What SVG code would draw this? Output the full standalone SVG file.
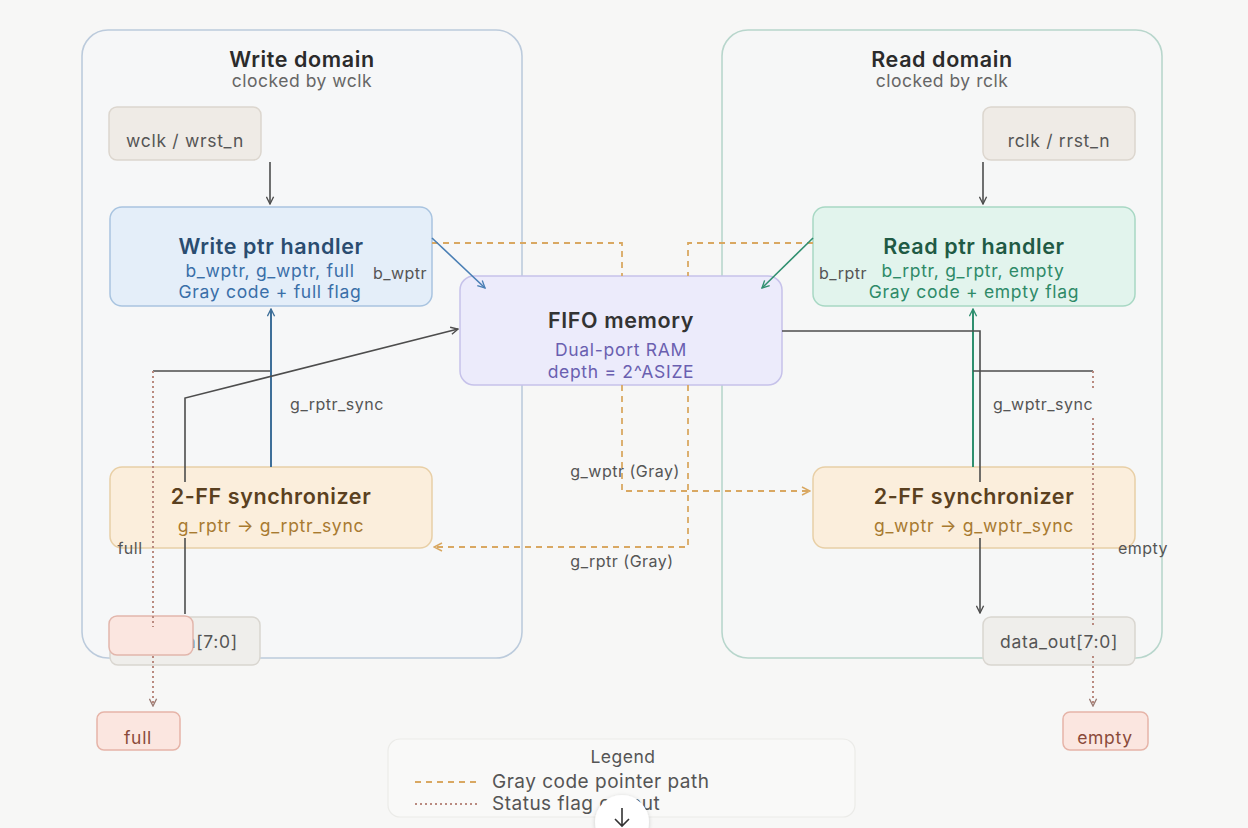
<svg xmlns="http://www.w3.org/2000/svg" width="1248" height="828" viewBox="0 0 1248 828">
<defs>
<style>
text{font-family:Inter,"Noto Sans","Liberation Sans",sans-serif;}
.ttl{font-size:21.5px;font-weight:600;text-anchor:middle;letter-spacing:0.6px;}
.sub{font-size:17.5px;text-anchor:middle;letter-spacing:0.7px;}
.dom{font-size:17.5px;text-anchor:middle;letter-spacing:0.5px;fill:#666;}
.lbl{font-size:16px;fill:#555;text-anchor:middle;letter-spacing:0.5px;}
.leg{font-size:19px;fill:#555;letter-spacing:0.5px;}
.gray{fill:none;stroke:#d9a862;stroke-width:1.8;stroke-dasharray:6 5;}
.flag{fill:none;stroke:#b98a80;stroke-width:2;stroke-dasharray:2 3;}
.wire{fill:none;stroke:#4d4d4d;stroke-width:1.6;}
</style>
<marker id="aGrey" viewBox="0 0 10 10" refX="9" refY="5" markerWidth="9" markerHeight="9" orient="auto" markerUnits="userSpaceOnUse"><path d="M1,1 L9,5 L1,9" fill="none" stroke="#4d4d4d" stroke-width="1.5"/></marker>
<marker id="aBlue" viewBox="0 0 10 10" refX="9" refY="5" markerWidth="9" markerHeight="9" orient="auto" markerUnits="userSpaceOnUse"><path d="M1,1 L9,5 L1,9" fill="none" stroke="#4a7fb5" stroke-width="1.5"/></marker>
<marker id="aBlueD" viewBox="0 0 10 10" refX="9" refY="5" markerWidth="9" markerHeight="9" orient="auto" markerUnits="userSpaceOnUse"><path d="M1,1 L9,5 L1,9" fill="none" stroke="#3e6f99" stroke-width="1.5"/></marker>
<marker id="aGreen" viewBox="0 0 10 10" refX="9" refY="5" markerWidth="9" markerHeight="9" orient="auto" markerUnits="userSpaceOnUse"><path d="M1,1 L9,5 L1,9" fill="none" stroke="#2f8f6f" stroke-width="1.5"/></marker>
<marker id="aOr" viewBox="0 0 10 10" refX="9" refY="5" markerWidth="10" markerHeight="10" orient="auto" markerUnits="userSpaceOnUse"><path d="M1,1 L9,5 L1,9" fill="none" stroke="#d9a862" stroke-width="1.5"/></marker>
<marker id="aFlag" viewBox="0 0 10 10" refX="9" refY="5" markerWidth="9" markerHeight="9" orient="auto" markerUnits="userSpaceOnUse"><path d="M1,1 L9,5 L1,9" fill="none" stroke="#9a7a72" stroke-width="1.5"/></marker>
<filter id="sh" x="-30%" y="-30%" width="160%" height="160%"><feDropShadow dx="0" dy="1" stdDeviation="2" flood-color="#000" flood-opacity="0.18"/></filter>
</defs>
<rect width="1248" height="828" fill="#f7f7f6"/>

<g id="write-domain">
<rect x="82" y="30" width="440" height="628" rx="26" fill="#f6f7f8" stroke="#bccbdc" stroke-width="1.6"/>
<text class="ttl" x="302" y="67" fill="#2b2b2b">Write domain</text>
<text class="dom" x="302" y="87">clocked by wclk</text>
</g>
<g id="read-domain">
<rect x="722" y="30" width="440" height="628" rx="26" fill="#f6f7f7" stroke="#b8d6cc" stroke-width="1.6"/>
<text class="ttl" x="942" y="67" fill="#2b2b2b">Read domain</text>
<text class="dom" x="942" y="87">clocked by rclk</text>
</g>

<g id="wclk">
<rect x="109" y="107" width="152" height="53" rx="8" fill="#efebe6" stroke="#dcd6ce" stroke-width="1.5"/>
<text class="sub" x="185" y="147" fill="#555">wclk / wrst_n</text>
</g>
<g id="rclk">
<rect x="983" y="107" width="152" height="53" rx="8" fill="#efebe6" stroke="#dcd6ce" stroke-width="1.5"/>
<text class="sub" x="1059" y="147" fill="#555">rclk / rrst_n</text>
</g>

<g id="write-ptr-handler">
<rect x="110" y="207" width="322" height="99" rx="12" fill="#e4eef9" stroke="#a9c4e0" stroke-width="1.5"/>
<text class="ttl" x="271" y="254" fill="#2a4c70">Write ptr handler</text>
<text class="sub" x="270" y="277" fill="#3a6fa8">b_wptr, g_wptr, full</text>
<text class="sub" x="270" y="298" fill="#3a6fa8">Gray code + full flag</text>
</g>
<g id="read-ptr-handler">
<rect x="813" y="207" width="322" height="99" rx="12" fill="#e2f4ed" stroke="#a8d8c4" stroke-width="1.5"/>
<text class="ttl" x="974" y="254" fill="#1f5a44">Read ptr handler</text>
<text class="sub" x="973" y="277" fill="#2e8a68">b_rptr, g_rptr, empty</text>
<text class="sub" x="974" y="298" fill="#2e8a68">Gray code + empty flag</text>
</g>

<g id="fifo-memory">
<rect x="460" y="276" width="322" height="109" rx="14" fill="#ecebfb" stroke="#c6c2ea" stroke-width="1.5"/>
<text class="ttl" x="621" y="328" fill="#333">FIFO memory</text>
<text class="sub" x="621" y="356" fill="#6a5fb0">Dual-port RAM</text>
<text class="sub" x="621" y="378" fill="#6a5fb0">depth = 2^ASIZE</text>
</g>

<g id="sync-write">
<rect x="110" y="467" width="322" height="81" rx="12" fill="#fbeedc" stroke="#e8cfa6" stroke-width="1.5"/>
<text class="ttl" x="271" y="504" fill="#5a4020">2-FF synchronizer</text>
<text class="sub" x="271" y="532" fill="#a87a30">g_rptr → g_rptr_sync</text>
</g>
<g id="sync-read">
<rect x="813" y="467" width="322" height="81" rx="12" fill="#fbeedc" stroke="#e8cfa6" stroke-width="1.5"/>
<text class="ttl" x="974" y="504" fill="#5a4020">2-FF synchronizer</text>
<text class="sub" x="974" y="532" fill="#a87a30">g_wptr → g_wptr_sync</text>
</g>

<g id="data-in">
<rect x="110" y="617" width="150" height="48" rx="8" fill="#efeeeb" stroke="#d9d6d0" stroke-width="1.5"/>
<text class="sub" x="185" y="648" fill="#555">data_in[7:0]</text>
</g>
<g id="full-overlay">
<rect x="109" y="616" width="84" height="39" rx="8" fill="#fbe6e0" stroke="#e2b6ac" stroke-width="1.5"/>
</g>
<g id="data-out">
<rect x="983" y="617" width="152" height="48" rx="8" fill="#efeeeb" stroke="#d9d6d0" stroke-width="1.5"/>
<text class="sub" x="1059" y="648" fill="#555">data_out[7:0]</text>
</g>

<g id="full">
<rect x="97" y="712" width="83" height="38" rx="7" fill="#fbe6e0" stroke="#e6b4a8" stroke-width="1.5"/>
<text class="sub" x="138" y="744" fill="#8a4a3a">full</text>
</g>
<g id="empty">
<rect x="1063" y="712" width="85" height="38" rx="7" fill="#fbe6e0" stroke="#e6b4a8" stroke-width="1.5"/>
<text class="sub" x="1105" y="744" fill="#8a4a3a">empty</text>
</g>

<g id="connectors">
<path class="gray" d="M432,243 H622 V276"/>
<path class="gray" d="M622,385 V491 H810" marker-end="url(#aOr)"/>
<path class="gray" d="M813,243 H688 V276"/>
<path class="gray" d="M688,385 V547 H434" marker-end="url(#aOr)"/>
<path class="wire" d="M270,162 V204" marker-end="url(#aGrey)"/>
<path class="wire" d="M983,162 V204" marker-end="url(#aGrey)"/>
<path d="M432,238 L485,288" fill="none" stroke="#4a7fb5" stroke-width="1.6" marker-end="url(#aBlue)"/>
<path d="M813,238 L762,288" fill="none" stroke="#2f8f6f" stroke-width="1.6" marker-end="url(#aGreen)"/>
<path d="M271,467 V309" fill="none" stroke="#3e6f99" stroke-width="2" marker-end="url(#aBlueD)"/>
<path d="M973,467 V309" fill="none" stroke="#2f8f6f" stroke-width="2" marker-end="url(#aGreen)"/>
<path class="wire" d="M270,371 H153"/>
<path class="wire" d="M973,371 H1093"/>
<path class="wire" d="M185,482 V398 L458,329" marker-end="url(#aGrey)"/>
<path class="wire" d="M185,538 V614"/>
<path class="wire" d="M782,331 H980 V482"/>
<path class="wire" d="M980,538 V613" marker-end="url(#aGrey)"/>
<path class="flag" d="M153,371 V627"/>
<path class="flag" d="M153,656 V706" marker-end="url(#aFlag)"/>
<path class="flag" d="M1093,371 V390"/>
<path class="flag" d="M1093,418 V627"/>
<path class="flag" d="M1093,656 V706" marker-end="url(#aFlag)"/>
<text class="lbl" x="400" y="279">b_wptr</text>
<text class="lbl" x="843" y="279">b_rptr</text>
<text class="lbl" x="337" y="410">g_rptr_sync</text>
<text class="lbl" x="1043" y="410">g_wptr_sync</text>
<text class="lbl" x="625" y="477">g_wptr (Gray)</text>
<text class="lbl" x="622" y="567">g_rptr (Gray)</text>
<text class="lbl" x="130" y="554">full</text>
<text class="lbl" x="1143" y="554">empty</text>
</g>

<g id="legend">
<rect x="388" y="739" width="467" height="78" rx="12" fill="#f9f9f8" stroke="#ebebe8" stroke-width="1.2"/>
<text class="dom" x="623" y="763" style="fill:#555">Legend</text>
<line x1="415" y1="782" x2="477" y2="782" class="gray"/>
<text class="leg" x="492" y="788">Gray code pointer path</text>
<line x1="415" y1="804" x2="477" y2="804" class="flag"/>
<text class="leg" x="492" y="810">Status flag output</text>
</g>

<g id="scroll-button">
<circle cx="622" cy="822" r="27" fill="#ffffff" filter="url(#sh)"/>
<path d="M622,808 V826 M615,819 L622,826 L629,819" fill="none" stroke="#333" stroke-width="1.6"/>
</g>
</svg>
